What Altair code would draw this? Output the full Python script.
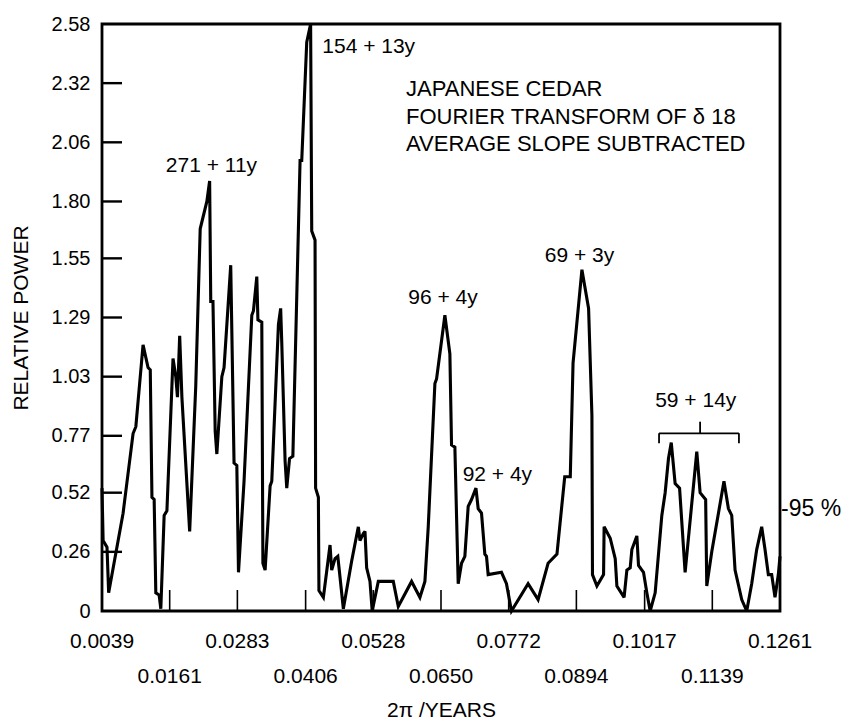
import altair as alt
import pandas as pd

# ---- spectrum (2pi/years vs relative power) ----
freq = [0.0039, 0.0041, 0.0048, 0.0051, 0.0077, 0.0095, 0.0100, 0.0113, 0.0122, 0.0126,
        0.0129, 0.0133, 0.0136, 0.0142, 0.0145, 0.0151, 0.0156, 0.0167, 0.0172, 0.0175,
        0.0179, 0.0183, 0.0197, 0.0208, 0.0216, 0.0228, 0.0233, 0.0235, 0.0239, 0.0243,
        0.0246, 0.0255, 0.0259, 0.0271, 0.0277, 0.0282, 0.0285, 0.0295, 0.0309, 0.0312,
        0.0318, 0.0320, 0.0327, 0.0329, 0.0333, 0.0342, 0.0345, 0.0357, 0.0361, 0.0363,
        0.0369, 0.0372, 0.0377, 0.0383, 0.0396, 0.0399, 0.0408, 0.0415, 0.0417, 0.0423,
        0.0424, 0.0429, 0.0430, 0.0438, 0.0450, 0.0453, 0.0459, 0.0464, 0.0474, 0.0489,
        0.0501, 0.0504, 0.0510, 0.0513, 0.0516, 0.0522, 0.0526, 0.0537, 0.0564, 0.0573,
        0.0597, 0.0612, 0.0621, 0.0627, 0.0639, 0.0642, 0.0657, 0.0666, 0.0669, 0.0675,
        0.0681, 0.0687, 0.0693, 0.0699, 0.0705, 0.0713, 0.0717, 0.0723, 0.0729, 0.0732,
        0.0735, 0.0759, 0.0768, 0.0777, 0.0807, 0.0825, 0.0843, 0.0859, 0.0873, 0.0883,
        0.0888, 0.0904, 0.0916, 0.0922, 0.0923, 0.0931, 0.0943, 0.0944, 0.0955, 0.0964,
        0.0967, 0.0980, 0.0985, 0.0991, 0.0994, 0.1003, 0.1006, 0.1015, 0.1021, 0.1027,
        0.1036, 0.1048, 0.1054, 0.1060, 0.1065, 0.1072, 0.1080, 0.1090, 0.1111, 0.1117,
        0.1127, 0.1129, 0.1138, 0.1160, 0.1168, 0.1174, 0.1180, 0.1192, 0.1201, 0.1210,
        0.1219, 0.1228, 0.1234, 0.1240, 0.1246, 0.1252, 0.1258, 0.1261]
power = [0.54, 0.31, 0.28, 0.08, 0.43, 0.78, 0.81, 1.17, 1.07, 1.06,
         0.50, 0.49, 0.08, 0.07, 0.01, 0.42, 0.44, 1.11, 1.03, 0.94,
         1.21, 0.94, 0.35, 0.99, 1.68, 1.80, 1.89, 1.36, 1.36, 0.79,
         0.69, 1.03, 1.07, 1.52, 0.65, 0.64, 0.17, 0.57, 1.30, 1.32,
         1.47, 1.28, 1.27, 0.21, 0.18, 0.55, 0.57, 1.26, 1.33, 1.18,
         0.66, 0.54, 0.67, 0.68, 1.98, 1.98, 2.50, 2.58, 1.67, 1.63,
         0.54, 0.50, 0.09, 0.06, 0.29, 0.18, 0.23, 0.24, 0.01, 0.22,
         0.37, 0.31, 0.34, 0.35, 0.19, 0.13, 0.00, 0.13, 0.13, 0.02,
         0.13, 0.06, 0.13, 0.37, 1.00, 1.02, 1.30, 1.13, 0.73, 0.72,
         0.12, 0.21, 0.24, 0.46, 0.49, 0.54, 0.45, 0.43, 0.25, 0.24,
         0.16, 0.17, 0.12, 0.00, 0.12, 0.05, 0.21, 0.25, 0.59, 0.59,
         1.09, 1.50, 1.33, 0.86, 0.16, 0.11, 0.16, 0.37, 0.32, 0.23,
         0.11, 0.06, 0.18, 0.19, 0.27, 0.33, 0.20, 0.17, 0.08, 0.00,
         0.08, 0.42, 0.52, 0.67, 0.74, 0.56, 0.54, 0.17, 0.70, 0.52,
         0.49, 0.11, 0.26, 0.57, 0.45, 0.42, 0.18, 0.05, 0.00, 0.12,
         0.27, 0.37, 0.27, 0.16, 0.16, 0.06, 0.16, 0.24]

# ---- axes ----
y_ticks = [0, 0.26, 0.52, 0.77, 1.03, 1.29, 1.55, 1.80, 2.06, 2.32, 2.58]
x_tick_labels = ["0.0039", "0.0161", "0.0283", "0.0406", "0.0528", "0.0650",
                 "0.0772", "0.0894", "0.1017", "0.1139", "0.1261"]

# ---- annotations ----
peak_labels = ["271 + 11y", "154 + 13y", "96 + 4y", "92 + 4y", "69 + 3y", "59 + 14y"]
peak_label_f = [0.0154, 0.0436, 0.0591, 0.0689, 0.0837, 0.1036]
peak_label_v = [1.954, 2.48, 1.374, 0.596, 1.562, 0.925]

title_lines = ["JAPANESE CEDAR", "FOURIER TRANSFORM OF  δ 18", "AVERAGE SLOPE SUBTRACTED"]
title_f = [0.0587, 0.0587, 0.0587]
title_v = [2.295, 2.171, 2.051]

bracket_f = [0.1043, 0.1117, 0.1187]   # left end, centre, right end
bracket_v = [0.737, 0.781, 0.832]      # leg bottom, bar, centre top

sig_label = "-95 %"
sig_level = 0.448

FONT = "Liberation Sans"
W, H = 678, 587

xs = alt.Scale(domain=[0.0039, 0.1261], nice=False, zero=False)
ys = alt.Scale(domain=[0, 2.58], nice=False, zero=True)

X_AX = alt.Axis(title="2π /YEARS", labels=False, ticks=False, tickSize=0,
                domain=False, grid=False, titleFont=FONT, titleFontSize=21,
                titleFontWeight="normal", titleColor="black", titlePadding=88)
Y_AX = alt.Axis(title="RELATIVE POWER", values=y_ticks, ticks=False, tickSize=0,
                domain=False, grid=False,
                labelExpr="datum.value == 0 ? '0' : format(datum.value, '.2f')",
                labelFont=FONT, labelFontSize=20, labelColor="black",
                labelPadding=12, labelOverlap=False,
                titleFont=FONT, titleFontSize=21, titleFontWeight="normal",
                titleColor="black", titlePadding=20)


def X(field="f"):
    return alt.X(f"{field}:Q", scale=xs, axis=X_AX, title="2π /YEARS")


def Y(field="v"):
    return alt.Y(f"{field}:Q", scale=ys, axis=Y_AX, title="RELATIVE POWER")


df = pd.DataFrame({"f": freq, "v": power, "i": list(range(len(freq)))})

line = alt.Chart(df).mark_line(color="black", strokeWidth=3.1, strokeJoin="miter",
                               strokeMiterLimit=3).encode(
    x=X(), y=Y(), order=alt.Order("i:Q"),
)

ytick_df = pd.DataFrame({"v": y_ticks[1:-1]})
yticks = alt.Chart(ytick_df).mark_rule(color="black", strokeWidth=2.4).encode(
    y=Y(), x=alt.value(0), x2=alt.value(20),
)

xpos = [float(s) for s in x_tick_labels]
xtick_df = pd.DataFrame({"f": xpos[1:-1]})
xticks = alt.Chart(xtick_df).mark_rule(color="black", strokeWidth=1.6).encode(
    x=X(), y=alt.value(H), y2=alt.value(H - 21),
)

xlab_df = pd.DataFrame({"f": xpos, "lab": x_tick_labels,
                        "row": [k % 2 for k in range(len(xpos))]})
xlab1 = alt.Chart(xlab_df).transform_filter("datum.row == 0").mark_text(
    font=FONT, fontSize=21, color="black", align="center", baseline="middle").encode(
    x=X(), y=alt.value(H + 31), text="lab:N")
xlab2 = alt.Chart(xlab_df).transform_filter("datum.row == 1").mark_text(
    font=FONT, fontSize=21, color="black", align="center", baseline="middle").encode(
    x=X(), y=alt.value(H + 66), text="lab:N")

ann_df = pd.DataFrame({"f": peak_label_f, "v": peak_label_v, "t": peak_labels})
ann = alt.Chart(ann_df).mark_text(font=FONT, fontSize=21, color="black",
                                  align="left", baseline="middle").encode(
    x=X(), y=Y(), text="t:N")

ttl_df = pd.DataFrame({"f": title_f, "v": title_v, "t": title_lines})
ttl = alt.Chart(ttl_df).mark_text(font=FONT, fontSize=22, color="black",
                                  align="left", baseline="middle").encode(
    x=X(), y=Y(), text="t:N")

bf0, bf1, bf2 = bracket_f
bv_leg, bv_bar, bv_top = bracket_v
br_df = pd.DataFrame({
    "f": [bf0, bf0, bf2, bf1],
    "f2": [bf2, bf0, bf2, bf1],
    "v": [bv_bar, bv_bar, bv_bar, bv_bar],
    "v2": [bv_bar, bv_leg, bv_leg, bv_top],
})
bracket = alt.Chart(br_df).mark_rule(color="black", strokeWidth=1.8).encode(
    x=X(), x2="f2:Q", y=Y(), y2="v2:Q",
)

sig_df = pd.DataFrame({"v": [sig_level], "t": [sig_label]})
sig = alt.Chart(sig_df).mark_text(font=FONT, fontSize=23, color="black",
                                  align="left", baseline="middle").encode(
    x=alt.value(W + 1), y=Y(), text="t:N")

chart = alt.layer(line, yticks, xticks, xlab1, xlab2, ann, ttl, bracket, sig).properties(
    width=W, height=H,
    padding={"left": 102, "top": 24, "right": 72, "bottom": 110},
    autosize=alt.AutoSizeParams(type="none"),
    background="white",
).configure_view(stroke="black", strokeWidth=2.8)

chart.save("out.html", embed_options={"renderer": "svg", "actions": False})
